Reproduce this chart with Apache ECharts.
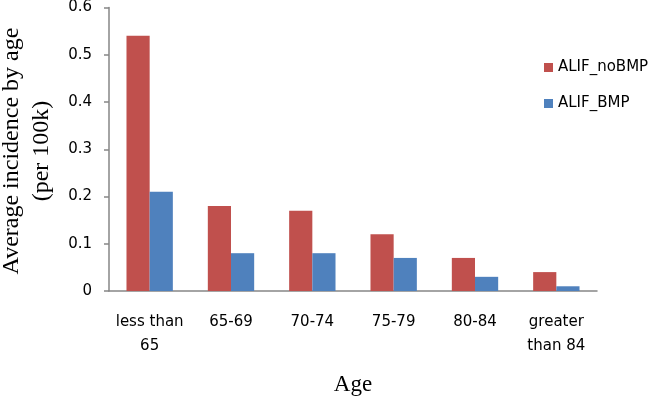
<!DOCTYPE html>
<html>
<head>
<meta charset="utf-8">
<script src="https://cdn.jsdelivr.net/npm/echarts@6/dist/echarts.min.js"></script>
<style>html,body{margin:0;padding:0;background:#fff}#c{width:660px;height:401px}</style>
</head>
<body>
<div id="c"></div>
<script>
var categories = ['less than\n65', '65-69', '70-74', '75-79', '80-84', 'greater\nthan 84'];
var noBMP = [0.54, 0.18, 0.17, 0.12, 0.07, 0.04];
var withBMP = [0.21, 0.08, 0.08, 0.07, 0.03, 0.01];
var seriesNames = ['ALIF_noBMP', 'ALIF_BMP'];
var yTitle = 'Average incidence by age\n(per 100k)';
var xTitle = 'Age';

var chart = echarts.init(document.getElementById('c'));
var axisColor = '#868686';
var sans = '"DejaVu Sans", sans-serif';
var serif = '"Liberation Serif", "Times New Roman", serif';
chart.setOption({
  animation: false,
  grid: { left: 109, right: 63, top: 5, bottom: 109 },
  legend: {
    orient: 'vertical', left: 539, top: 55, itemWidth: 9, itemHeight: 9, itemGap: 21,
    icon: 'rect',
    textStyle: { fontFamily: sans, fontSize: 15, color: '#000' },
    data: seriesNames
  },
  xAxis: {
    type: 'category', data: categories,
    name: xTitle, nameLocation: 'middle', nameGap: 82,
    nameTextStyle: { fontFamily: serif, fontSize: 23, color: '#000' },
    axisLine: { lineStyle: { color: axisColor, width: 1.5 } },
    axisTick: { length: 5, lineStyle: { color: axisColor, width: 1.5 } },
    axisLabel: { fontFamily: sans, fontSize: 15, color: '#000', margin: 19, lineHeight: 24, interval: 0 }
  },
  yAxis: {
    type: 'value', min: 0, max: 0.6, interval: 0.1,
    splitLine: { show: false },
    axisLine: { show: true, lineStyle: { color: axisColor, width: 1.5 } },
    axisTick: { show: true, length: 5, lineStyle: { color: axisColor, width: 1.5 } },
    axisLabel: { fontFamily: sans, fontSize: 15, color: '#000', margin: 17 }
  },
  graphic: [{
    type: 'text',
    rotation: Math.PI / 2,
    x: 27, y: 151,
    style: { text: yTitle, font: '24px ' + serif, fill: '#000', textAlign: 'center', textVerticalAlign: 'middle', lineHeight: 30 }
  }],
  series: [
    { name: seriesNames[0], type: 'bar', data: noBMP, barGap: '0%', barCategoryGap: '43%', itemStyle: { color: '#C0504D' } },
    { name: seriesNames[1], type: 'bar', data: withBMP, barGap: '0%', barCategoryGap: '43%', itemStyle: { color: '#4F81BD' } }
  ]
});
</script>
</body>
</html>
